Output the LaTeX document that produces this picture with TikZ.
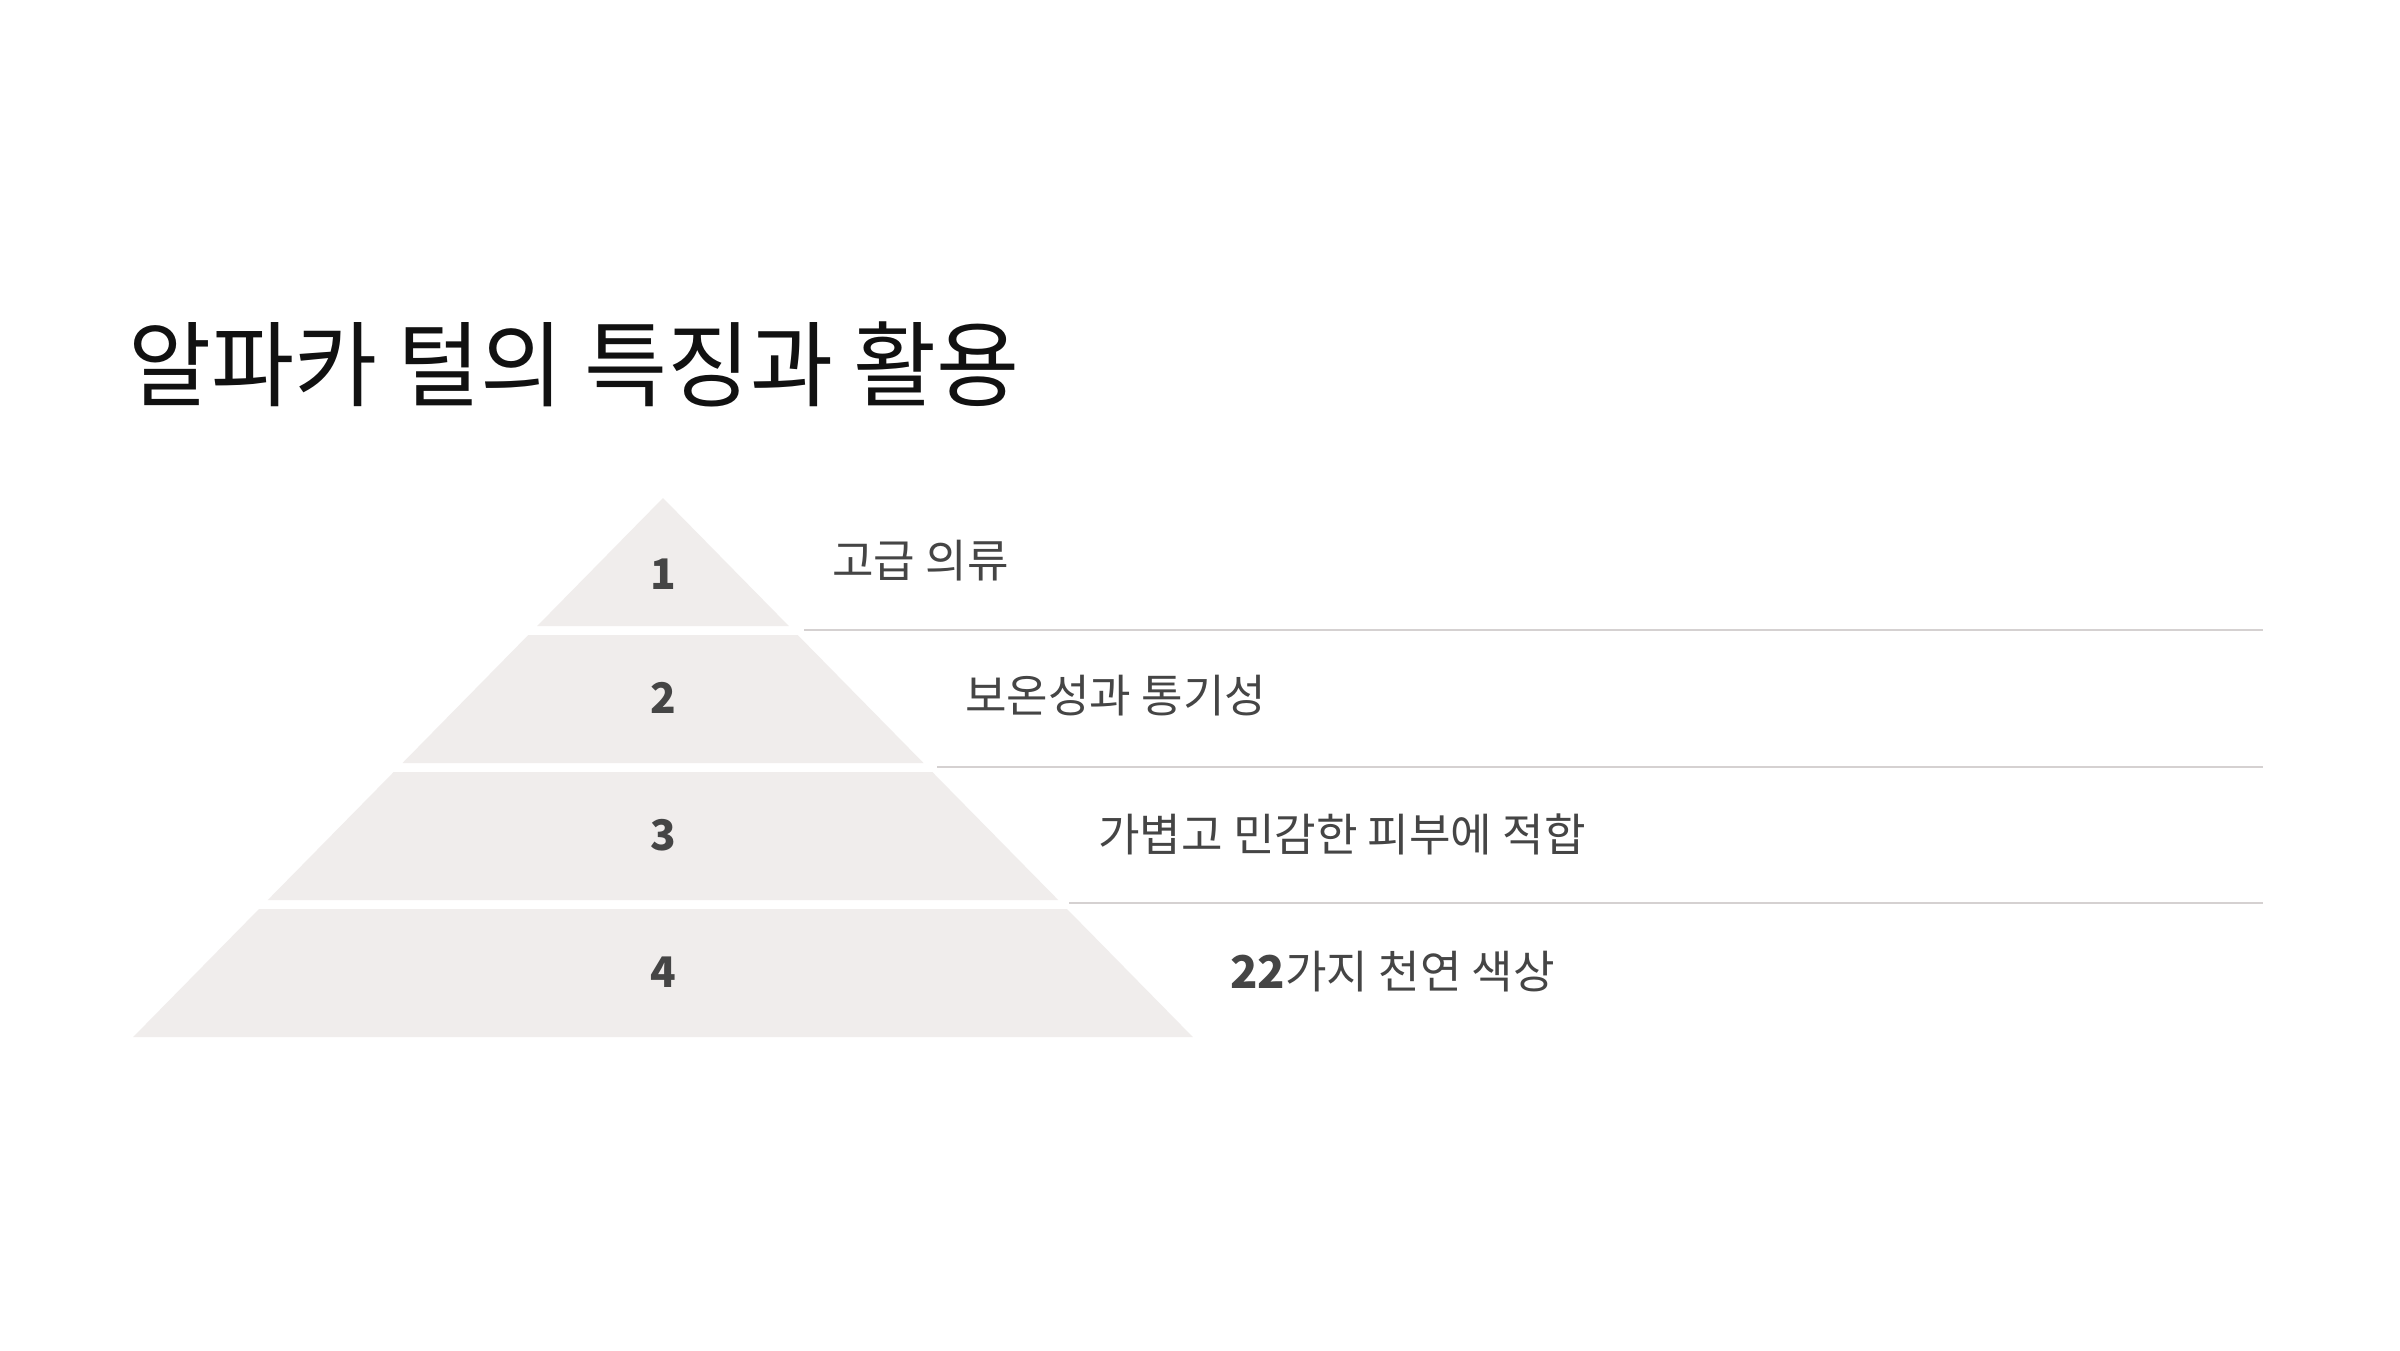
\documentclass[tikz,border=0pt]{standalone}
\usepackage{fontspec}
\setmainfont{Noto Sans CJK KR}
\newfontfamily\kr{Noto Sans CJK KR}
\definecolor{tierfill}{HTML}{F0EDEC}
\definecolor{rulegrey}{HTML}{D5D1D1}
\definecolor{labelgrey}{HTML}{454545}
\definecolor{titleblack}{HTML}{111111}
\begin{document}
\begin{tikzpicture}[x=0.02cm,y=-0.02cm,
  tier/.style={fill=tierfill,draw=none},
  rowrule/.style={draw=rulegrey,line width=1.14pt},
  numlabel/.style={text=labelgrey,inner sep=0pt,font=\kr\bfseries\fontsize{24pt}{28pt}\selectfont},
  itemlabel/.style={text=labelgrey,inner sep=0pt,anchor=west,font=\kr\fontsize{25.7pt}{30pt}\selectfont},
  titlelabel/.style={text=titleblack,inner sep=0pt,anchor=west,font=\kr\fontsize{53pt}{60pt}\selectfont}]
\useasboundingbox[fill=white] (0,0) rectangle (2400,1350);
% title
\node[titlelabel] (title) at (128,364) {\scalebox{0.97}[1]{알파카 털의 특징과 활용}};
% pyramid tiers
\fill[tier] (663,498) -- (788.8,626) -- (537.2,626) -- cycle;
\fill[tier] (528.3,635) -- (797.7,635) -- (923.5,763) -- (402.5,763) -- cycle;
\fill[tier] (393.7,772) -- (932.3,772) -- (1058.2,900) -- (267.8,900) -- cycle;
\fill[tier] (259,909) -- (1067,909) -- (1192.8,1037) -- (133.2,1037) -- cycle;
% numbers
\node[numlabel] (n1) at (663,574) {1};
\node[numlabel] (n2) at (663,698) {2};
\node[numlabel] (n3) at (663,835) {3};
\node[numlabel] (n4) at (663,972) {4};
% rules
\coordinate (r1a) at (804,630);  \coordinate (r1b) at (2263,630);
\coordinate (r2a) at (937,767);  \coordinate (r2b) at (2263,767);
\coordinate (r3a) at (1069,903); \coordinate (r3b) at (2263,903);
\draw[rowrule] (r1a) -- (r1b);
\draw[rowrule] (r2a) -- (r2b);
\draw[rowrule] (r3a) -- (r3b);
% labels
\node[itemlabel] (l1) at (832,561) {고급 의류};
\node[itemlabel] (l2) at (965,696) {보온성과 통기성};
\node[itemlabel] (l3) at (1098,834) {가볍고 민감한 피부에 적합};
\node[itemlabel] (l4) at (1230,972) {{\bfseries 22}가지 천연 색상};
\end{tikzpicture}
\end{document}
